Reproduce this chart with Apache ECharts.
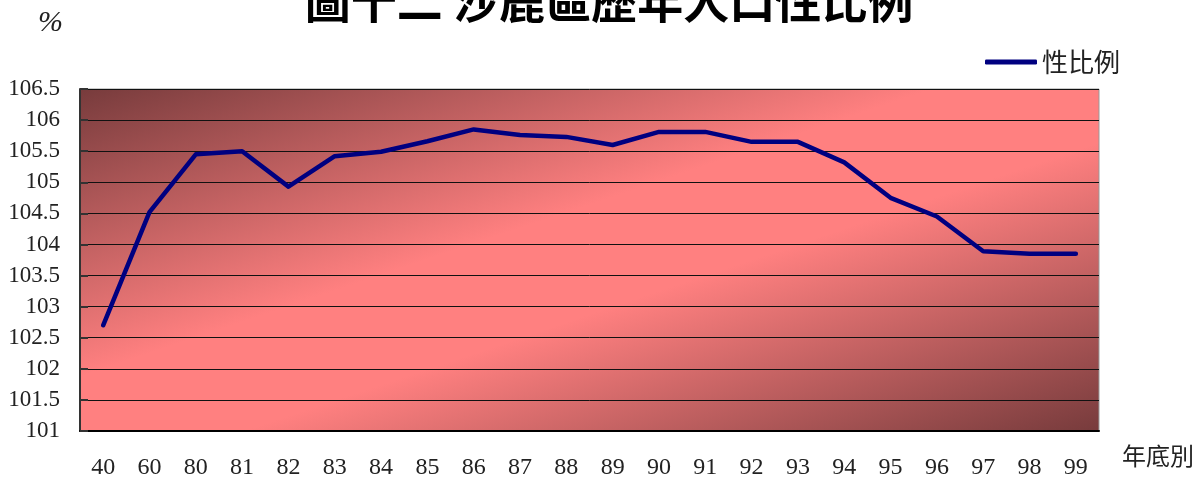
<!DOCTYPE html>
<html>
<head>
<meta charset="utf-8">
<script src="https://cdn.jsdelivr.net/npm/echarts@6/dist/echarts.min.js"></script>
<style>
  html,body{margin:0;padding:0;background:#fff;}
  #chart{width:1196px;height:480px;}
</style>
</head>
<body>
<div id="chart"></div>
<script>
var years=['40','60','80','81','82','83','84','85','86','87','88','89','90','91','92','93','94','95','96','97','98','99'];
var sexRatio=[102.7,104.52,105.45,105.5,104.93,105.42,105.49,105.66,105.85,105.76,105.73,105.6,105.81,105.81,105.65,105.65,105.32,104.75,104.45,103.89,103.85,103.85];

var chart=echarts.init(document.getElementById('chart'));
var serif='"Liberation Serif","DejaVu Serif",serif';
var cjk='"Noto Sans CJK TC","Noto Sans CJK SC",sans-serif';

// 背景: 左上/右下暗, 中間粉紅
var bg=new echarts.graphic.LinearGradient(0,0,0.204,1.797,[
  {offset:0,color:'#773b3c'},
  {offset:0.42,color:'#ff8080'},
  {offset:0.58,color:'#ff8080'},
  {offset:1,color:'#773b3c'}
]);

var option={
  animation:false,
  grid:{
    left:80,right:97,top:89,bottom:48,
    show:true,
    backgroundColor:bg,
    borderColor:'#999',
    borderWidth:1
  },
  graphic:[
    {type:'text',x:609,y:1,style:{text:'圖十二 沙鹿區歷年人口性比例',font:'bold 46px '+cjk,fill:'#000',align:'center',verticalAlign:'middle'}},
    {type:'text',left:38,top:8,style:{text:'%',font:'italic 30px '+serif,fill:'#222'}},
    {type:'text',left:1122,top:444,style:{text:'年底別',font:'24px '+cjk,fill:'#222'}}
  ],
  legend:{
    left:980,top:44,
    icon:'roundRect',
    itemWidth:52,itemHeight:5,itemGap:6,
    textStyle:{fontFamily:cjk,fontSize:26,color:'#222'},
    data:['性比例']
  },
  xAxis:{
    type:'category',
    data:years,
    boundaryGap:true,
    axisLine:{lineStyle:{color:'#000',width:2}},
    axisTick:{inside:true,length:7,lineStyle:{color:'#222'}},
    axisLabel:{margin:25,fontFamily:serif,fontSize:24,color:'#222'}
  },
  yAxis:{
    type:'value',
    min:101,max:106.5,interval:0.5,
    axisLine:{show:true,lineStyle:{color:'#333',width:2}},
    axisTick:{show:true,inside:true,length:8,lineStyle:{color:'#333',width:2}},
    axisLabel:{margin:20,fontFamily:serif,fontSize:23,color:'#222'},
    splitLine:{lineStyle:{color:'#111',width:1}}
  },
  series:[{
    name:'性比例',
    type:'line',
    data:sexRatio,
    symbol:'none',
    lineStyle:{color:'#000080',width:4.5,cap:'round',join:'round'},
    itemStyle:{color:'#000080'}
  }]
};
chart.setOption(option);
</script>
</body>
</html>
